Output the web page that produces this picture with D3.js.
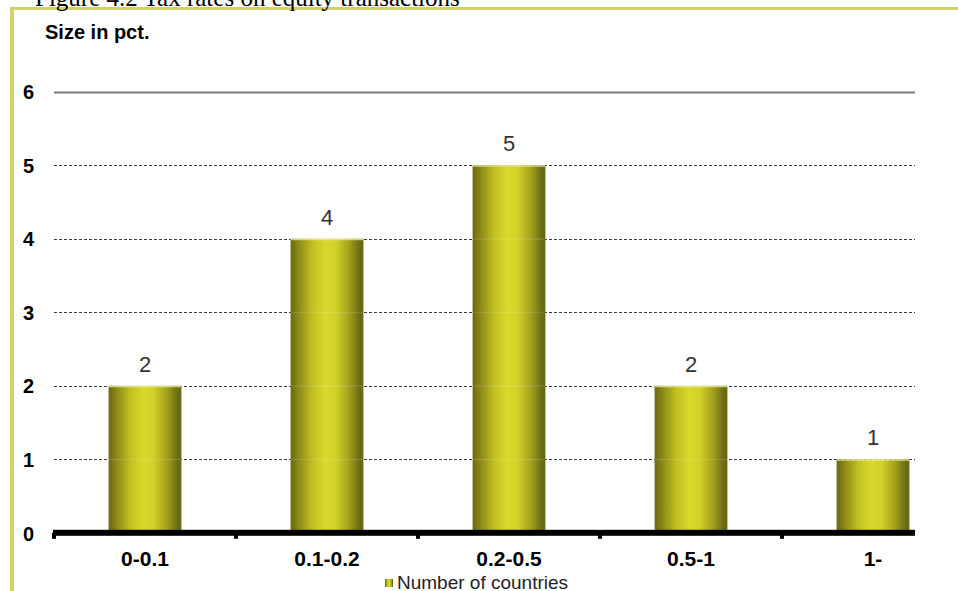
<!DOCTYPE html>
<html>
<head>
<meta charset="utf-8">
<script src="https://cdn.jsdelivr.net/npm/d3@7"></script>
<style>
  html, body { margin: 0; padding: 0; background: #fff; }
  svg { display: block; }
</style>
</head>
<body>
<svg id="chart" width="958" height="591"></svg>
<script>
// Tax rate brackets (pct.) and the number of countries in each
const categories = ["0-0.1", "0.1-0.2", "0.2-0.5", "0.5-1", "1-"];
const countries = [2, 4, 5, 2, 1];
const yTicks = [0, 1, 2, 3, 4, 5, 6];
const figureTitle = "Figure 4.2 Tax rates on equity transactions";
const yAxisTitle = "Size in pct.";
const seriesName = "Number of countries";

const svg = d3.select("#chart");
const W = 958, H = 591;
const sans = "Arial, 'Liberation Sans', sans-serif";

// Cylinder shading for the columns
const defs = svg.append("defs");
const grad = defs.append("linearGradient").attr("id", "cyl")
  .attr("x1", "0%").attr("x2", "100%").attr("y1", "0%").attr("y2", "0%");
[
  [0, "#6a6912"], [0.12, "#8e8c18"], [0.3, "#c2c022"], [0.48, "#dad82c"],
  [0.62, "#d2d028"], [0.8, "#a3a11c"], [0.94, "#6f6e14"], [1, "#686710"]
].forEach(([o, c]) => grad.append("stop").attr("offset", o).attr("stop-color", c));

// Frame edges
svg.append("rect").attr("x", 10).attr("y", 7).attr("width", W - 10).attr("height", 3).attr("fill", "#d3d06a");
svg.append("rect").attr("x", 10).attr("y", 7).attr("width", 4).attr("height", H - 7).attr("fill", "#d3d06a");

// Figure caption, sitting just above the frame
svg.append("text").attr("x", 35).attr("y", 6)
  .attr("font-family", "'Liberation Serif', 'Times New Roman', serif")
  .attr("font-size", 25).attr("fill", "#000").text(figureTitle);

const plotLeft = 54, plotRight = 915;
const x = d3.scaleBand().domain(categories).range([plotLeft, plotLeft + 910])
  .paddingInner(0.6).paddingOuter(0.3);
const y = d3.scaleLinear().domain([0, 6]).range([532.8, 91.7]);

// Horizontal gridlines
svg.append("g").selectAll("line").data(yTicks.filter(t => t > 0)).join("line")
  .attr("x1", plotLeft).attr("x2", plotRight)
  .attr("y1", d => Math.round(y(d)) + 0.5).attr("y2", d => Math.round(y(d)) + 0.5)
  .attr("stroke", d => d === 6 ? "#7a7a7a" : "#3a3a3a")
  .attr("stroke-width", d => d === 6 ? 2 : 1)
  .attr("stroke-dasharray", d => d === 6 ? null : "3,2");

// Y axis labels
const yAxis = d3.axisLeft(y).tickValues(yTicks).tickSize(0).tickPadding(0).tickFormat(d3.format("d"));
const gy = svg.append("g").attr("transform", "translate(34,0)").call(yAxis);
gy.select(".domain").remove();
gy.selectAll("text")
  .attr("font-family", sans)
  .attr("font-size", 20).attr("font-weight", "bold").attr("fill", "#000")
  .attr("dy", "0.36em");

svg.append("text").attr("x", 45).attr("y", 39)
  .attr("font-family", sans)
  .attr("font-size", 20).attr("font-weight", "bold")
  .attr("fill", "#000").text(yAxisTitle);

// Columns
const bars = svg.append("g");
bars.selectAll("rect.bar").data(categories).join("rect").attr("class", "bar")
  .attr("x", d => x(d)).attr("width", x.bandwidth())
  .attr("y", (d, i) => y(countries[i]))
  .attr("height", (d, i) => y(0) - y(countries[i]))
  .attr("fill", "url(#cyl)");
// light rim on top of each column
bars.selectAll("rect.rim").data(categories).join("rect").attr("class", "rim")
  .attr("x", d => x(d)).attr("width", x.bandwidth())
  .attr("y", (d, i) => y(countries[i])).attr("height", 1.5)
  .attr("fill", "#e9e8a8").attr("opacity", 0.8);
// faint seams where gridlines cross the columns
categories.forEach((c, i) => {
  yTicks.filter(t => t > 0 && t < countries[i]).forEach(t => {
    bars.append("rect").attr("x", x(c)).attr("width", x.bandwidth())
      .attr("y", y(t) - 0.5).attr("height", 1.5)
      .attr("fill", "#ffffff").attr("opacity", 0.12);
  });
});

// Value labels
svg.append("g").selectAll("text").data(categories).join("text")
  .attr("x", d => x(d) + x.bandwidth() / 2)
  .attr("y", (d, i) => y(countries[i]) - 14)
  .attr("text-anchor", "middle")
  .attr("font-family", sans)
  .attr("font-size", 22).attr("fill", "#333")
  .text((d, i) => countries[i]);

// X axis: thick baseline with short ticks at the category boundaries
const gx = svg.append("g");
gx.append("rect").attr("x", plotLeft - 1).attr("width", plotRight - plotLeft + 1)
  .attr("y", y(0) - 3).attr("height", 6).attr("fill", "#000");
const edges = categories.map((c, i) => plotLeft + i * x.step()).filter(v => v < plotRight);
gx.selectAll("rect.tk").data(edges).join("rect").attr("class", "tk")
  .attr("x", d => d - 2).attr("width", 4)
  .attr("y", y(0)).attr("height", 6).attr("fill", "#000");

const xAxis = d3.axisBottom(x).tickSize(0).tickPadding(0);
const gxl = svg.append("g").attr("transform", `translate(0,${y(0) + 33})`).call(xAxis);
gxl.select(".domain").remove();
gxl.selectAll("text").attr("dy", 0)
  .attr("font-family", sans)
  .attr("font-size", 21).attr("font-weight", "bold").attr("fill", "#000");

// Legend
const lg = svg.append("g");
lg.append("rect").attr("x", 385).attr("y", 579).attr("width", 8).attr("height", 8)
  .attr("fill", "url(#cyl)");
lg.append("text").attr("x", 397).attr("y", 589)
  .attr("font-family", sans)
  .attr("font-size", 19).attr("fill", "#222").text(seriesName);
</script>
</body>
</html>
